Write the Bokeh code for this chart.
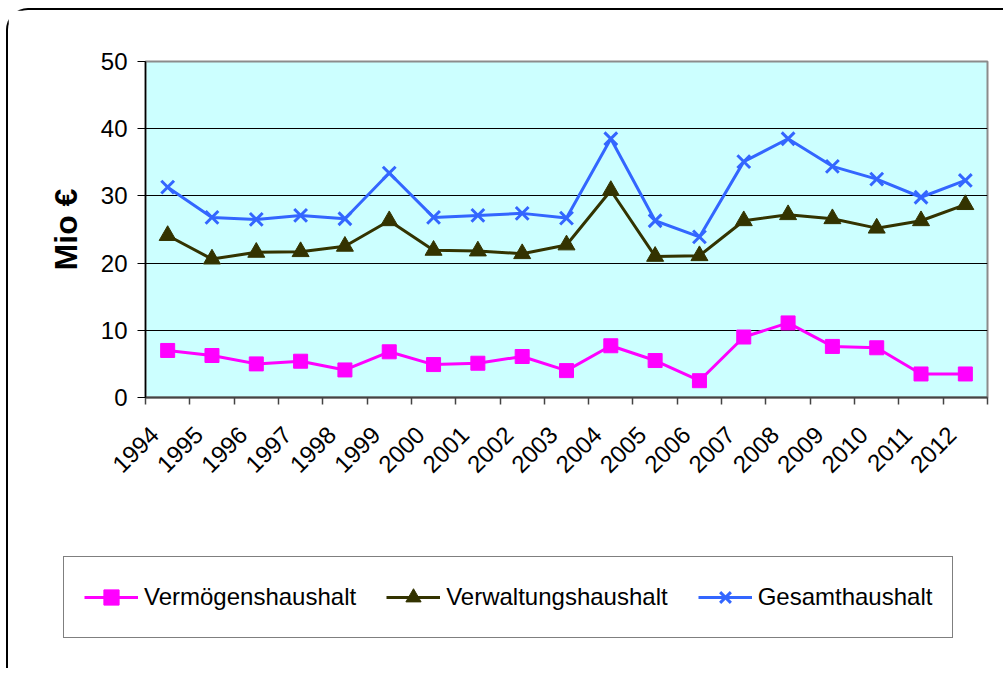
from bokeh.plotting import figure
from bokeh.layouts import column
from bokeh.models import (Range1d, LinearAxis, FixedTicker, Legend, LegendItem, ColumnDataSource)
from bokeh.embed import file_html
from bokeh.resources import INLINE
import math

years = ["1994", "1995", "1996", "1997", "1998", "1999", "2000", "2001", "2002", "2003",
         "2004", "2005", "2006", "2007", "2008", "2009", "2010", "2011", "2012"]
vermoegen = [7.0, 6.25, 5.0, 5.4, 4.1, 6.8, 4.9, 5.1, 6.1, 4.0,
             7.7, 5.5, 2.5, 9.0, 11.1, 7.6, 7.4, 3.5, 3.5]
verwaltung = [24.1, 20.6, 21.6, 21.7, 22.5, 26.3, 21.9, 21.8, 21.4, 22.7,
              30.8, 21.0, 21.1, 26.3, 27.2, 26.6, 25.2, 26.3, 28.7]
gesamt = [31.3, 26.8, 26.5, 27.1, 26.6, 33.4, 26.8, 27.1, 27.4, 26.7,
          38.5, 26.3, 23.9, 35.1, 38.5, 34.4, 32.5, 29.8, 32.3]
y_ticks = [0, 10, 20, 30, 40, 50]
series_names = ["Vermögenshaushalt", "Verwaltungshaushalt", "Gesamthaushalt"]

FONT = "Liberation Sans"
C_VERM, C_VERW, C_GES = "#FF00FF", "#333300", "#3366FF"

# category slot centres (category i occupies [i, i+1])
n = len(years)
xc = [i + 0.5 for i in range(n)]
xlab = [i + 0.2 for i in range(n)]   # label anchors (rotated text ends left of centre)
src = ColumnDataSource(dict(x=xc, verm=vermoegen, verw=verwaltung, ges=gesamt))

p = figure(width=995, height=480, output_backend="svg", toolbar_location=None,
           x_range=Range1d(0, n), y_range=Range1d(0, 50),
           x_axis_location=None, y_axis_location=None,
           min_border_left=137, min_border_right=16, min_border_top=51, min_border_bottom=93)

p.background_fill_color = "#CCFFFF"
p.border_fill_color = "white"
p.outline_line_color = "#8C8C8C"
p.outline_line_width = 2

# y axis
yax = LinearAxis(ticker=FixedTicker(ticks=y_ticks), axis_label="Mio €")
yax.axis_line_color = "black"
yax.axis_line_width = 1.5
yax.major_tick_out = 8
yax.major_tick_in = 0
yax.minor_tick_out = 0
yax.minor_tick_in = 0
yax.major_label_text_font = FONT
yax.major_label_text_font_size = "24px"
yax.major_label_text_color = "black"
yax.major_label_standoff = 10
yax.axis_label_text_font = FONT
yax.axis_label_text_font_size = "32px"
yax.axis_label_text_font_style = "bold"
yax.axis_label_text_color = "black"
yax.axis_label_standoff = 14
p.add_layout(yax, "left")

# x axis: labels near slot centres, tick marks (minor) at slot boundaries
xax = LinearAxis(ticker=FixedTicker(ticks=xlab, minor_ticks=list(range(n + 1))),
                 major_label_overrides={x: y for x, y in zip(xlab, years)})
xax.axis_line_color = "#444444"
xax.axis_line_width = 2
xax.major_tick_out = 0
xax.major_tick_in = 0
xax.major_tick_line_color = None
xax.minor_tick_out = 7
xax.minor_tick_in = 0
xax.minor_tick_line_color = "#444444"
xax.minor_tick_line_width = 1.5
xax.major_label_orientation = math.pi / 4
xax.major_label_text_font = FONT
xax.major_label_text_font_size = "24px"
xax.major_label_text_color = "black"
xax.major_label_standoff = 26
p.add_layout(xax, "below")

p.xgrid.visible = False
p.ygrid.ticker = FixedTicker(ticks=[10, 20, 30, 40])
p.ygrid.grid_line_color = "black"
p.ygrid.grid_line_width = 1

p.line("x", "verm", source=src, line_color=C_VERM, line_width=3)
p.scatter("x", "verm", source=src, marker="square", size=14, fill_color=C_VERM, line_color=C_VERM)
p.line("x", "verw", source=src, line_color=C_VERW, line_width=3)
p.scatter("x", "verw", source=src, marker="triangle", size=17, fill_color=C_VERW, line_color=C_VERW)
p.line("x", "ges", source=src, line_color=C_GES, line_width=3)
p.scatter("x", "ges", source=src, marker="x", size=18, line_color=C_GES, line_width=3)

# legend panel below the chart (its ranges keep the series out of view; only the legend shows)
p2 = figure(width=995, height=178, output_backend="svg", toolbar_location=None,
            x_range=Range1d(0, n), y_range=Range1d(1000, 1001),
            x_axis_location=None, y_axis_location=None,
            min_border_left=0, min_border_right=0, min_border_top=0, min_border_bottom=0)
for fig in (p, p2):
    try:
        fig.frame_align = False
    except Exception:
        pass
p2.grid.visible = False
p2.outline_line_color = None
p2.background_fill_color = "white"
p2.border_fill_color = "white"
g1 = [p2.line("x", "verm", source=src, line_color=C_VERM, line_width=3),
      p2.scatter("x", "verm", source=src, marker="square", fill_color=C_VERM, line_color=C_VERM)]
g2 = [p2.line("x", "verw", source=src, line_color=C_VERW, line_width=3),
      p2.scatter("x", "verw", source=src, marker="triangle", fill_color=C_VERW, line_color=C_VERW)]
g3 = [p2.line("x", "ges", source=src, line_color=C_GES, line_width=3),
      p2.scatter("x", "ges", source=src, marker="x", line_color=C_GES, line_width=3)]

legend = Legend(items=[LegendItem(label=series_names[0], renderers=g1),
                       LegendItem(label=series_names[1], renderers=g2),
                       LegendItem(label=series_names[2], renderers=g3)],
                orientation="horizontal", location=(55, 30))
legend.label_text_font = FONT
legend.label_text_font_size = "24px"
legend.label_text_color = "black"
legend.border_line_color = "black"
legend.border_line_width = 1
legend.background_fill_color = "white"
legend.background_fill_alpha = 1
legend.padding = 20
legend.margin = 0
legend.spacing = 30
legend.glyph_width = 54
legend.glyph_height = 38
legend.label_height = 40
legend.label_standoff = 6
p2.add_layout(legend, "center")

layout = column(p, p2, spacing=0)
layout.margin = (8, 0, 0, 6)
layout.styles = {"border-left": "2px solid black", "border-top": "2px solid black",
                 "border-top-left-radius": "22px"}

open("out.html", "w").write(file_html(layout, INLINE))
